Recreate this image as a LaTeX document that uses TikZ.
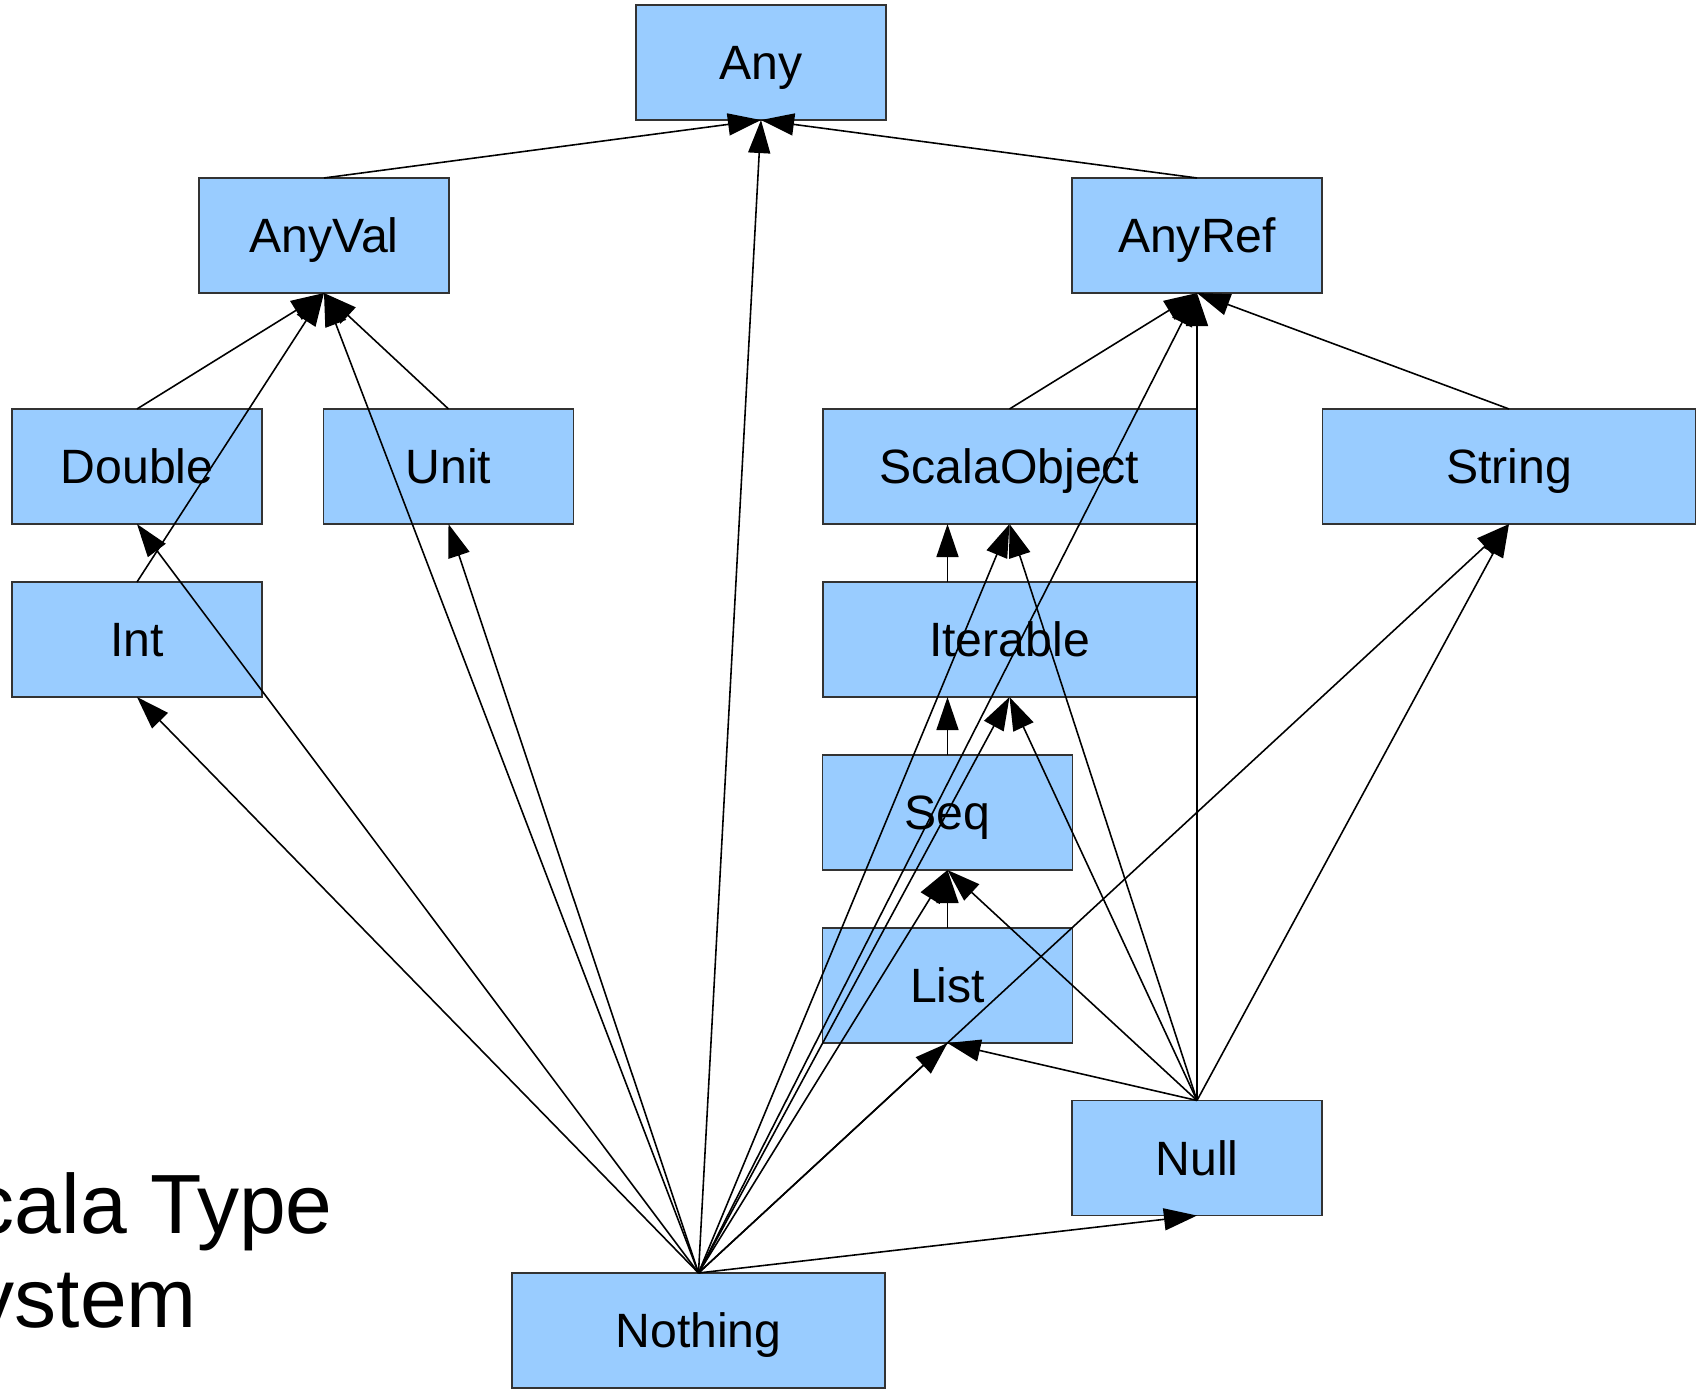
\documentclass[tikz,border=0pt]{standalone}
\usepackage{fontspec}
\setmainfont{Liberation Sans}
\usetikzlibrary{arrows.meta}

\definecolor{boxfill}{RGB}{153,204,255}
\definecolor{boxline}{RGB}{51,51,51}

\tikzset{
  typebox/.style={rectangle, draw=boxline, line width=0.35pt, fill=boxfill,
    minimum height=1.15cm, inner sep=0pt, outer sep=0pt,
    font=\fontsize{13.7}{16.4}\selectfont, text height=9.8pt, text depth=0pt},
  narrowbox/.style={typebox, minimum width=2.5cm},
  widebox/.style={typebox, minimum width=3.73cm},
  conn/.style={line width=0.45pt, -{Triangle[length=0.33cm,width=0.22cm]}},
}

\begin{document}
\begin{tikzpicture}[x=0.01cm, y=-0.01cm]
  \useasboundingbox (0,0) rectangle (1696,1390);
  \clip (0,0) rectangle (1696,1390);

  % title, running off the left edge
  \node[anchor=base west, inner sep=0pt, align=left,
        font=\fontsize{23.9}{26.7}\selectfont] (title) at (-84,1327)
        {Scala Type\\System};

  % type boxes
  \node[narrowbox] (any)     at (761,62.5)    {Any};
  \node[narrowbox] (anyval)  at (324,235.5)   {AnyVal};
  \node[narrowbox] (anyref)  at (1197,235.5)  {AnyRef};
  \node[narrowbox] (double)  at (137,466.5)   {Double};
  \node[narrowbox] (unit)    at (448.5,466.5) {Unit};
  \node[widebox]   (sobj)    at (1009.5,466.5){ScalaObject};
  \node[widebox]   (string)  at (1509,466.5)  {String};
  \node[narrowbox] (int)     at (137,639.5)   {Int};
  \node[widebox]   (iter)    at (1009.5,639.5){Iterable};
  \node[narrowbox] (seq)     at (947.5,812.5) {Seq};
  \node[narrowbox] (list)    at (947.5,985.5) {List};
  \node[narrowbox] (null)    at (1197,1158)   {Null};
  \node[widebox]   (nothing) at (698.5,1330.5){Nothing};

  % top of the hierarchy
  \draw[conn] (anyval.north) -- (any.south);
  \draw[conn] (anyref.north) -- (any.south);
  \draw[conn] (nothing.north) -- (any.south);

  % value types
  \draw[conn] (double.north) -- (anyval.south);
  \draw[conn] (unit.north) -- (anyval.south);
  \draw[conn] (int.north) -- (anyval.south);
  \draw[conn] (nothing.north) -- (anyval.south);
  \draw[conn] (nothing.north) -- (unit.south);
  \draw[conn] (nothing.north) -- (double.south);
  \draw[conn] (nothing.north) -- (int.south);

  % reference types
  \draw[conn] (sobj.north) -- (anyref.south);
  \draw[conn] (string.north) -- (anyref.south);
  \draw[conn] (null.north) -- (anyref.south);
  \draw[conn] (nothing.north) -- (anyref.south);
  \draw[conn] (iter.north -| seq.north) -- (sobj.south -| seq.north);
  \draw[conn] (seq.north) -- (iter.south -| seq.north);
  \draw[conn] (list.north) -- (seq.south);

  \draw[conn] (nothing.north) -- (sobj.south);
  \draw[conn] (null.north) -- (sobj.south);
  \draw[conn] (nothing.north) -- (iter.south);
  \draw[conn] (null.north) -- (iter.south);
  \draw[conn] (nothing.north) -- (seq.south);
  \draw[conn] (null.north) -- (seq.south);
  \draw[conn] (nothing.north) -- (list.south);
  \draw[conn] (null.north) -- (list.south);
  \draw[conn] (nothing.north) -- (string.south);
  \draw[conn] (null.north) -- (string.south);
  \draw[conn] (nothing.north) -- (null.south);
\end{tikzpicture}
\end{document}
